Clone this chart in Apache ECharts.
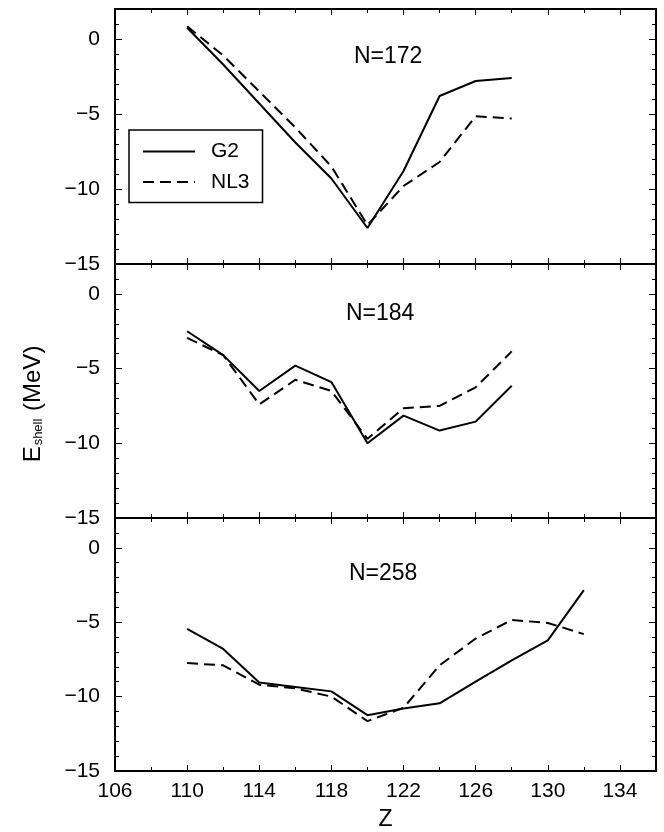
<!DOCTYPE html>
<html>
<head>
<meta charset="utf-8">
<script src="https://cdn.jsdelivr.net/npm/echarts@6/dist/echarts.min.js"></script>
<style>
html,body{margin:0;padding:0;background:#fff;}
#c{width:664px;height:832px;}
</style>
</head>
<body>
<div id="c"></div>
<script>
// ---- data ----
var Z_A = [110, 112, 114, 116, 118, 120, 122, 124, 126, 128];
var Z_C = [110, 112, 114, 116, 118, 120, 122, 124, 126, 128, 130, 132];

var panelLabels = ['N=172', 'N=184', 'N=258'];

var g2_172  = [0.75, -1.7, -4.3, -6.9, -9.3, -12.6, -8.8, -3.8, -2.8, -2.6];
var nl3_172 = [0.85, -1.1, -3.5, -5.9, -8.5, -12.4, -9.8, -8.2, -5.15, -5.3];

var g2_184  = [-2.5, -4.1, -6.5, -4.8, -5.9, -10.0, -8.15, -9.15, -8.55, -6.15];
var nl3_184 = [-2.95, -4.1, -7.4, -5.75, -6.5, -9.7, -7.65, -7.5, -6.25, -3.85];

var g2_258  = [-5.45, -6.8, -9.05, -9.35, -9.65, -11.25, -10.8, -10.45, -9.0, -7.56, -6.22, -2.85];
var nl3_258 = [-7.75, -7.9, -9.2, -9.45, -10.0, -11.65, -10.75, -7.9, -6.1, -4.85, -5.05, -5.8];

var xTickLabels = [106, 110, 114, 118, 122, 126, 130, 134];
var yTickLabels = [0, -5, -10, -15];

// ---- layout ----
var FONT = "'Liberation Sans', Arial, Helvetica, sans-serif";
var gridTops = [9, 264, 518];
var gridHeights = [255, 254, 255];
var X_MIN = 106, X_MAX = 136, Y_MIN = -15, Y_MAX = 2;

function pairs(xs, ys) { return ys.map(function (v, i) { return [xs[i], v]; }); }

var grids = [], xAxes = [], yAxes = [], series = [];
var seriesSets = [
  [pairs(Z_A, g2_172), pairs(Z_A, nl3_172)],
  [pairs(Z_A, g2_184), pairs(Z_A, nl3_184)],
  [pairs(Z_C, g2_258), pairs(Z_C, nl3_258)]
];

for (var g = 0; g < 3; g++) {
  grids.push({ left: 115, right: 8, top: gridTops[g], height: gridHeights[g], containLabel: false });
  var isBottom = (g === 2);
  ['bottom', 'top'].forEach(function (pos) {
    xAxes.push({
      type: 'value', gridIndex: g, position: pos, min: X_MIN, max: X_MAX, interval: 4,
      axisLine: { show: true, onZero: false, lineStyle: { color: '#000', width: 2 } },
      axisTick: { show: true, inside: true, length: 6, lineStyle: { color: '#000', width: 1 } },
      splitLine: { show: false },
      axisLabel: {
        show: isBottom && pos === 'bottom', margin: 10, color: '#000', fontFamily: FONT, fontSize: 21,
        formatter: function (v) { return xTickLabels.indexOf(v) >= 0 ? String(v) : ''; }
      },
      name: (isBottom && pos === 'bottom') ? 'Z' : '',
      nameLocation: 'middle', nameGap: 37,
      nameTextStyle: { color: '#000', fontFamily: FONT, fontSize: 23 }
    });
    xAxes.push({
      type: 'value', gridIndex: g, position: pos, min: X_MIN, max: X_MAX, interval: 2,
      axisLine: { show: false, onZero: false },
      axisTick: { show: true, inside: true, length: 4, lineStyle: { color: '#000', width: 1 } },
      splitLine: { show: false }, axisLabel: { show: false }
    });
  });
  ['left', 'right'].forEach(function (pos) {
    var main = {
      type: 'value', gridIndex: g, position: pos, min: Y_MIN, max: Y_MAX, interval: 5,
      axisLine: { show: true, onZero: false, lineStyle: { color: '#000', width: 2 } },
      axisTick: { show: true, inside: true, length: 7, lineStyle: { color: '#000', width: 1 } },
      splitLine: { show: false },
      axisLabel: {
        show: pos === 'left', margin: 15, color: '#000', fontFamily: FONT, fontSize: 21,
        formatter: function (v) { return yTickLabels.indexOf(v) >= 0 ? String(v).replace('-', '\u2212') : ''; }
      }
    };
    if (g === 1 && pos === 'left') {
      main.name = '{e|E}{s|shell}{e| (MeV)}';
      main.nameLocation = 'middle';
      main.nameRotate = 90;
      main.nameGap = 70;
      main.nameTextStyle = {
        color: '#000', fontFamily: FONT, fontSize: 24, padding: [0, 26, 0, 0],
        rich: {
          e: { fontFamily: FONT, fontSize: 24, color: '#000' },
          s: { fontFamily: FONT, fontSize: 13, color: '#000', padding: [11, 1, 0, 1] }
        }
      };
    }
    yAxes.push(main);
    yAxes.push({
      type: 'value', gridIndex: g, position: pos, min: Y_MIN, max: Y_MAX, interval: 1,
      axisLine: { show: false, onZero: false },
      axisTick: { show: true, inside: true, length: 4, lineStyle: { color: '#000', width: 1 } },
      splitLine: { show: false }, axisLabel: { show: false }
    });
  });
  var xi = g * 4, yi = g * 4;
  series.push({
    name: 'G2', type: 'line', xAxisIndex: xi, yAxisIndex: yi, data: seriesSets[g][0],
    symbol: 'none', silent: true, animation: false,
    lineStyle: { color: '#000', width: 2, type: 'solid' }, itemStyle: { color: '#000' }
  });
  series.push({
    name: 'NL3', type: 'line', xAxisIndex: xi, yAxisIndex: yi, data: seriesSets[g][1],
    symbol: 'none', silent: true, animation: false,
    lineStyle: { color: '#000', width: 2, type: [11, 6] }, itemStyle: { color: '#000' }
  });
}

var labelPos = [[354, 45], [346, 302], [349, 562]];
var graphics = panelLabels.map(function (t, i) {
  return {
    type: 'text', left: labelPos[i][0], top: labelPos[i][1],
    style: { text: t, fill: '#000', font: '23px ' + FONT }
  };
});

var chart = echarts.init(document.getElementById('c'), null, { renderer: 'canvas' });
chart.setOption({
  animation: false,
  backgroundColor: '#fff',
  grid: grids,
  xAxis: xAxes,
  yAxis: yAxes,
  series: series,
  legend: {
    data: ['G2', 'NL3'], orient: 'vertical', left: 129, top: 130,
    padding: [11, 13, 10, 13], itemWidth: 52, itemHeight: 14, itemGap: 9.5,
    borderColor: '#000', borderWidth: 1.5, backgroundColor: '#fff',
    selectedMode: false,
    itemStyle: { color: 'rgba(0,0,0,0)', borderWidth: 0, borderColor: 'rgba(0,0,0,0)' },
    lineStyle: { color: '#000', width: 2 },
    textStyle: { color: '#000', fontFamily: FONT, fontSize: 21, lineHeight: 20, padding: [0, 0, 0, 11] }
  },
  graphic: graphics
});
</script>
</body>
</html>
